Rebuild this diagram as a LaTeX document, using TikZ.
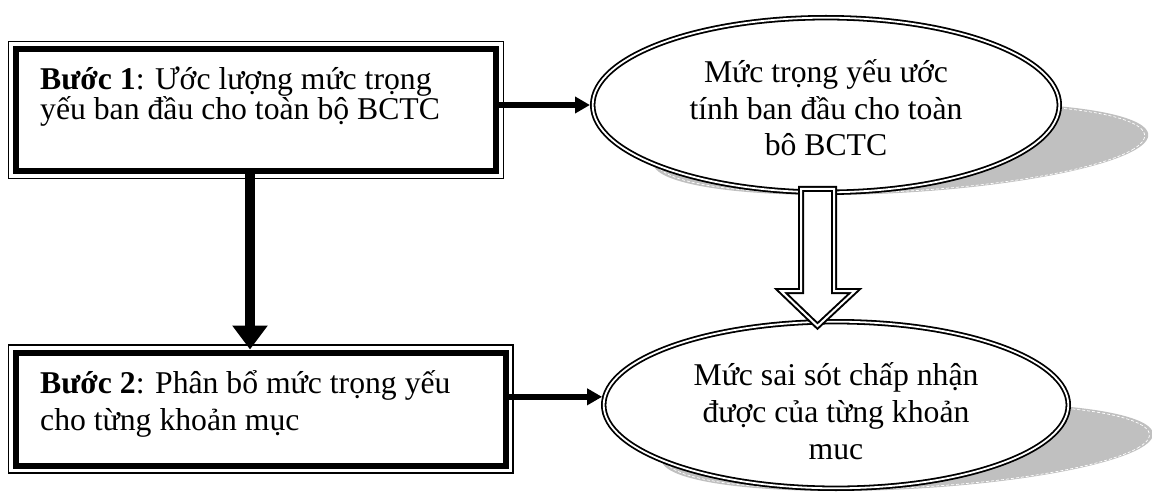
\documentclass[tikz,border=0pt]{standalone}
\usepackage{fontspec}
\setmainfont{Liberation Serif}
\usetikzlibrary{arrows.meta,calc,shapes.geometric}
\definecolor{shadowgray}{RGB}{192,192,192}

\begin{document}
\begin{tikzpicture}[x=1pt,y=-1pt,
  heavybox/.style={draw, line width=6pt, inner sep=0pt, outer sep=3pt},
  thinframe/.style={line width=1.5pt},
  oval/.style={ellipse, draw, fill=white, double, line width=1.8pt,
    double distance=1.8pt, inner sep=0pt, outer sep=2.7pt},
  shade/.style={fill=shadowgray},
  shadeedge/.style={draw=white, line width=0.7pt, dash pattern=on 3pt off 2pt},
  bodytext/.style={font=\fontsize{31.7}{28}\selectfont, inner sep=0pt, align=left},
  bodytextwide/.style={font=\fontsize{31.7}{37}\selectfont, inner sep=0pt, align=left},
  ovaltext/.style={font=\fontsize{31.7}{36.6}\selectfont, inner sep=0pt, align=center},
  linkarrow/.style={line width=5.5pt, -{Triangle[length=15pt,width=16pt]}},
  downarrow/.style={line width=10pt, -{Triangle[length=24pt,width=34pt]}},
  hollowarrow/.style={draw, fill=white, double, line width=2pt,
    double distance=2pt, line join=miter}]

\useasboundingbox (0,0) rectangle (1152,492);

% step boxes: heavy inner line with a thin outer frame
\node[heavybox, minimum width=480pt, minimum height=122pt] (b1) at (256,110) {};
\draw[thinframe] ([shift={(-4.5pt,4.5pt)}]b1.north west) rectangle ([shift={(4.5pt,-4.5pt)}]b1.south east);
\node[heavybox, minimum width=489.5pt, minimum height=113pt] (b2) at (260.75,409) {};
\draw[thinframe] ([shift={(-4.5pt,4.5pt)}]b2.north west) rectangle ([shift={(4.5pt,-4.5pt)}]b2.south east);

% step texts (anchored on the baseline of their last line)
\node[bodytext, anchor=base west] (t1) at (40,120)
  {\textbf{Bước 1}: Ước lượng mức trọng\\yếu ban đầu cho toàn bộ BCTC};
\node[bodytextwide, anchor=base west] (t2) at (40,430)
  {\textbf{Bước 2}: Phân bổ mức trọng yếu\\cho từng khoản mục};

% perspective shadows behind the ovals
\fill[shade] plot[domain=0:360, samples=180, variable=\t]
  ({826+236*cos(\t)+0.83*90*(1-sin(\t))},{195-0.512*90*(1-sin(\t))}) -- cycle;
\draw[shadeedge] plot[domain=0:360, samples=180, variable=\t]
  ({826+233*cos(\t)+0.83*(90-87*sin(\t))},{195-0.512*(90-87*sin(\t))}) -- cycle;
\fill[shade] plot[domain=0:360, samples=180, variable=\t]
  ({836+235*cos(\t)+0.83*86*(1-sin(\t))},{491-0.512*86*(1-sin(\t))}) -- cycle;
\draw[shadeedge] plot[domain=0:360, samples=180, variable=\t]
  ({836+232*cos(\t)+0.83*(86-83*sin(\t))},{491-0.512*(86-83*sin(\t))}) -- cycle;

% result ovals
\node[oval, minimum width=466.6pt, minimum height=174.6pt] (e1) at (826,105) {};
\node[oval, minimum width=464.6pt, minimum height=166.6pt] (e2) at (836,405) {};
\node[ovaltext, anchor=base] (e1t) at (826,156)
  {Mức trọng yếu ước\\tính ban đầu cho toàn\\bô BCTC};
\node[ovaltext, anchor=base] (e2t) at (836,459)
  {Mức sai sót chấp nhận\\được của từng khoản\\muc};

% connectors
\draw[linkarrow] (b1.east |- e1.west) -- (e1.west);
\draw[linkarrow] (b2.east |- e2.178) -- (e2.178);
\coordinate (vx) at (250,0);
\draw[downarrow] (b1.south -| vx) -- (b2.north -| vx);

% hollow block arrow between the ovals
\coordinate (ha) at (817.5,189);
\coordinate (hb) at (817.5,326);
\draw[hollowarrow] ($(ha)+(-16.5,0)$) -- ($(hb)+(-16.5,-35)$) -- ($(hb)+(-36.5,-35)$)
  -- (hb) -- ($(hb)+(37.5,-35)$) -- ($(hb)+(16.5,-35)$) -- ($(ha)+(16.5,0)$) -- cycle;
\end{tikzpicture}
\end{document}
